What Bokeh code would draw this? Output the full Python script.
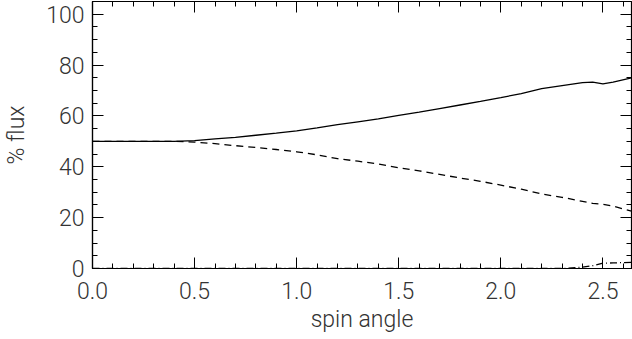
from bokeh.plotting import figure
from bokeh.models import LinearAxis, Range1d, FixedTicker, NumeralTickFormatter, CustomJSTickFormatter
from bokeh.embed import file_html
from bokeh.resources import INLINE

spin_angle = [0.0, 0.4, 0.5, 0.6, 0.7, 0.8, 0.9, 1.0, 1.1, 1.2, 1.3, 1.4, 1.5,
              1.6, 1.7, 1.8, 1.9, 2.0, 2.1, 2.2, 2.3, 2.4, 2.45, 2.5, 2.55, 2.64]
flux_solid = [50.0, 50.0, 50.3, 51.0, 51.6, 52.4, 53.2, 54.1, 55.3, 56.6, 57.7, 58.8, 60.2,
              61.5, 62.9, 64.3, 65.7, 67.2, 68.8, 70.7, 71.9, 73.1, 73.3, 72.6, 73.3, 75.0]
flux_dashed = [50.0, 50.0, 49.7, 49.1, 48.3, 47.6, 46.8, 45.9, 44.7, 43.2, 42.2, 41.1, 39.6,
               38.4, 37.0, 35.6, 34.3, 32.8, 31.2, 29.3, 28.0, 26.4, 25.6, 25.3, 24.5, 22.6]
flux_dashdot = [0.0, 0.0, 0.0, 0.0, 0.0, 0.0, 0.0, 0.0, 0.0, 0.0, 0.0, 0.0, 0.0,
                0.0, 0.0, 0.0, 0.0, 0.0, 0.0, 0.0, 0.0, 0.5, 1.1, 2.1, 2.2, 2.4]

x_ticks = [0.0, 0.5, 1.0, 1.5, 2.0, 2.5]
x_minor = [i / 10 for i in range(0, 27)]
y_ticks = [0, 20, 40, 60, 80, 100]
y_minor = list(range(0, 106, 5))

FONT = "'DejaVu Sans ExtraLight', 'Roboto Light', 'Lato Light', 'DejaVu Sans'"
TXT = "#333333"
FS = "23px"

p = figure(width=632, height=339, output_backend="svg", toolbar_location=None,
           x_range=Range1d(0, 2.64), y_range=Range1d(0, 105),
           min_border_left=90, min_border_right=1, min_border_top=1, min_border_bottom=71,
           x_axis_label="spin angle", y_axis_label="% flux")
p.grid.visible = False
p.outline_line_color = "black"
p.outline_line_width = 1.2
p.background_fill_color = "white"
p.border_fill_color = "white"

p.line(spin_angle, flux_solid, line_color="black", line_width=1.3)
p.line(spin_angle, flux_dashed, line_color="black", line_width=1.3, line_dash="7 5")
p.line(spin_angle, flux_dashdot, line_color="black", line_width=1.3, line_dash="7 3 1 3")

def style_axis(ax, ticks, minor):
    ax.ticker = FixedTicker(ticks=ticks, minor_ticks=minor)
    ax.major_tick_in = 11
    ax.major_tick_out = 0
    ax.minor_tick_in = 5
    ax.minor_tick_out = 0
    ax.major_tick_line_color = "black"
    ax.minor_tick_line_color = "black"
    ax.axis_line_color = "black"
    ax.axis_line_width = 1.2
    ax.major_label_text_font = FONT
    ax.major_label_text_color = TXT
    ax.major_label_text_font_size = FS
    ax.axis_label_text_font = FONT
    ax.axis_label_text_font_style = "normal"
    ax.axis_label_text_color = TXT
    ax.axis_label_text_font_size = FS

xa = p.xaxis[0]
style_axis(xa, x_ticks, x_minor)
xa.formatter = NumeralTickFormatter(format="0.0")
xa.major_label_standoff = 13
xa.axis_label_standoff = 4
ya = p.yaxis[0]
style_axis(ya, y_ticks, y_minor)
ya.major_label_standoff = 8
ya.axis_label_standoff = 13

top = LinearAxis(formatter=CustomJSTickFormatter(code="return ''"))
style_axis(top, x_ticks, x_minor)
top.major_label_standoff = 0
top.axis_line_color = None
p.add_layout(top, "above")
right = LinearAxis(formatter=CustomJSTickFormatter(code="return ''"))
style_axis(right, y_ticks, y_minor)
right.major_label_standoff = 0
right.axis_line_color = None
p.add_layout(right, "right")

html = file_html(p, INLINE)
html = html.replace("<head>", "<head><style>html,body{margin:0;padding:0;}</style>", 1)
open("out.html", "w").write(html)
